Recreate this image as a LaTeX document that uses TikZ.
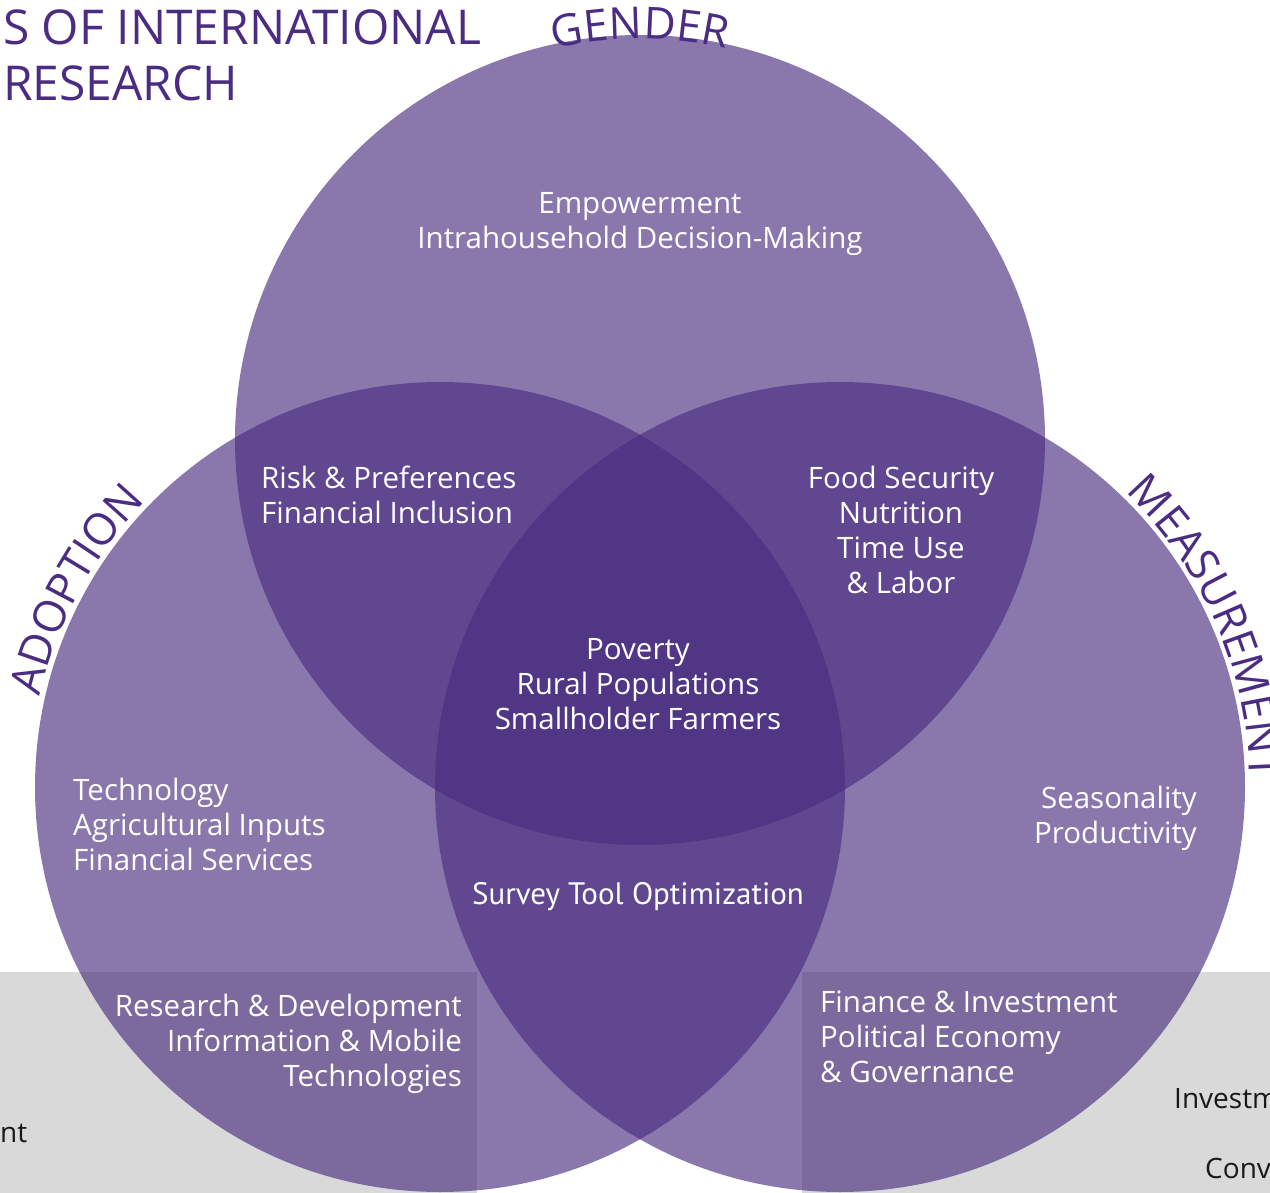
\documentclass[tikz,border=0pt]{standalone}
\usepackage{fontspec}
\setmainfont{Open Sans}
\newfontfamily\surveyfont{PT Sans}
\usetikzlibrary{decorations.text}
\definecolor{venn}{HTML}{482C7F}
\definecolor{headpurple}{HTML}{4B2C83}
\definecolor{band}{HTML}{D9D9D9}
\newcommand{\vennfont}{\fontsize{29.5}{35}\selectfont}
\newcommand{\arcfont}{\fontsize{44}{44}\selectfont}
\newcommand{\headfont}{\fontsize{48}{56}\selectfont}
\begin{document}
\begin{tikzpicture}[x=1pt,y=1pt,
  topic/.style={text=white,font=\vennfont,inner sep=0pt},
  ring/.style={fill=venn,fill opacity=0.64},
  side/.style={text=black!90,font=\fontsize{28}{35}\selectfont,inner sep=0pt,anchor=base west},
  arclabel/.style={decorate,decoration={text along path,text align=center,
    text color=headpurple,text={|\arcfont|#1}}}]
\useasboundingbox (0,0) rectangle (1270,-1193);
% grey band behind the circles
\fill[band] (0,-972) rectangle (477,-1193);
\fill[band] (802,-972) rectangle (1270,-1193);
% the three circles
\foreach \name/\cx/\cy in {gender/640/-440,adoption/440/-787,measure/840/-787}
  \fill[ring] (\cx,\cy) coordinate (\name) circle[radius=405];
% names round the circles
\path[arclabel=GENDER] ([shift={(120:401)}]gender) arc[start angle=120,end angle=60,radius=401];
\path[arclabel=ADOPTION] ([shift={(179.5:410)}]adoption) arc[start angle=179.5,end angle=123.5,radius=410];
\path[arclabel=MEASUREMENT] ([shift={(58:410)}]measure) arc[start angle=58,end angle=-11,radius=410];
% heading, cut at the edge
\node[text=headpurple,font=\headfont,inner sep=0pt,anchor=base west,align=left] (head) at (3,-101)
  {S OF INTERNATIONAL\\RESEARCH};
% topics
\node[topic,anchor=north,align=center] (emp) at (640,-192) {Empowerment\\Intrahousehold Decision-Making};
\node[topic,anchor=north west,align=left] (risk) at (261,-466) {Risk \& Preferences\\Financial Inclusion};
\node[topic,anchor=north,align=center] (food) at (901,-466) {Food Security\\Nutrition\\Time Use\\\& Labor};
\node[topic,anchor=north,align=center] (pov) at (638,-638) {Poverty\\Rural Populations\\Smallholder Farmers};
\node[topic,anchor=north west,align=left] (tech) at (73,-778) {Technology\\Agricultural Inputs\\Financial Services};
\node[topic,anchor=north east,align=right] (season) at (1197,-786) {Seasonality\\Productivity};
\node[topic,font=\fontsize{31}{35}\surveyfont,anchor=base] (survey) at (638,-904) {Survey Tool Optimization};
\node[topic,anchor=north east,align=right] (rnd) at (462,-994)
  {Research \& Development\\Information \& Mobile\hspace*{0.25em}\\Technologies};
\node[topic,anchor=north west,align=left] (fin) at (820,-991) {Finance \& Investment\\Political Economy\\\& Governance};
% words of the page round it
\node[side] (nt) at (0,-1142) {nt};
\node[side] (inv) at (1174,-1108) {Investm};
\node[side] (conv) at (1205,-1178) {Conv};
\end{tikzpicture}
\end{document}
